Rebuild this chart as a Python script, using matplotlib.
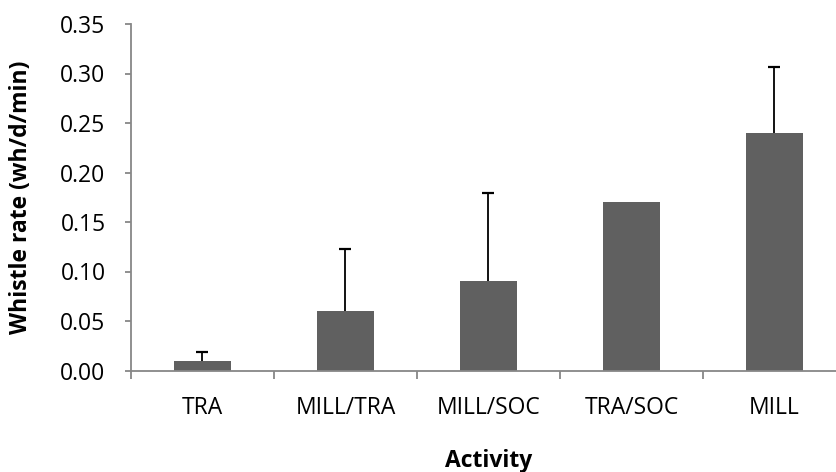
import numpy as np
import matplotlib
matplotlib.use("Agg")
import matplotlib.pyplot as plt
from matplotlib.ticker import FormatStrFormatter, FixedLocator

plt.rcParams['font.family'] = ['Open Sans', 'DejaVu Sans']

# whistle rate per activity, mean and upper error
activities = ["TRA", "MILL/TRA", "MILL/SOC", "TRA/SOC", "MILL"]
rate = [0.01, 0.06, 0.09, 0.17, 0.24]
err_up = [0.009, 0.063, 0.089, 0.0, 0.067]
yticks = [0.00, 0.05, 0.10, 0.15, 0.20, 0.25, 0.30, 0.35]

axis_grey = "#878787"
fs = 16.5

fig = plt.figure(figsize=(8.37, 4.72), dpi=100)
ax = fig.add_axes([131 / 837, 101.5 / 472, 715 / 837, 346.5 / 472])

x = np.arange(len(activities))
ax.bar(x, rate, width=0.4, color="#606060", zorder=2)

# upper-only error bars, skip the one without spread
has_err = np.array(err_up) > 0
eb = ax.errorbar(x[has_err], np.array(rate)[has_err],
                 yerr=[np.zeros(has_err.sum()), np.array(err_up)[has_err]],
                 fmt="none", ecolor="black", elinewidth=1.3, capsize=4.3,
                 capthick=1.6, zorder=3)
_, caps, _ = eb.lines
caps[0].set_visible(False)  # lower caps sit on the bar top

ax.set_xlim(-0.5, len(activities) - 0.5)
ax.set_ylim(0, 0.35)
ax.set_yticks(yticks)
ax.yaxis.set_major_formatter(FormatStrFormatter("%.2f"))

ax.set_xticks(x)
ax.set_xticklabels(activities)
ax.xaxis.set_minor_locator(FixedLocator(np.arange(-0.5, len(activities), 1.0)))

for side in ("top", "right"):
    ax.spines[side].set_visible(False)
for side in ("left", "bottom"):
    ax.spines[side].set_color(axis_grey)
    ax.spines[side].set_linewidth(1.3)

ax.tick_params(axis="x", which="major", length=0, pad=18, labelsize=fs)
ax.tick_params(axis="x", which="minor", length=5.8, width=1.3, color=axis_grey)
ax.tick_params(axis="y", length=4.3, width=1.3, color=axis_grey, pad=14,
               labelsize=fs)

ax.set_ylabel("Whistle rate (wh/d/min)", fontsize=fs, fontweight="bold")
ax.set_xlabel("Activity", fontsize=fs, fontweight="bold")
ax.yaxis.set_label_coords((33 - 131) / 715, 0.5)
ax.xaxis.set_label_coords((488.5 - 131) / 715, -(449 - 370.5) / 346.5)

fig.savefig("out.png", dpi=100)
